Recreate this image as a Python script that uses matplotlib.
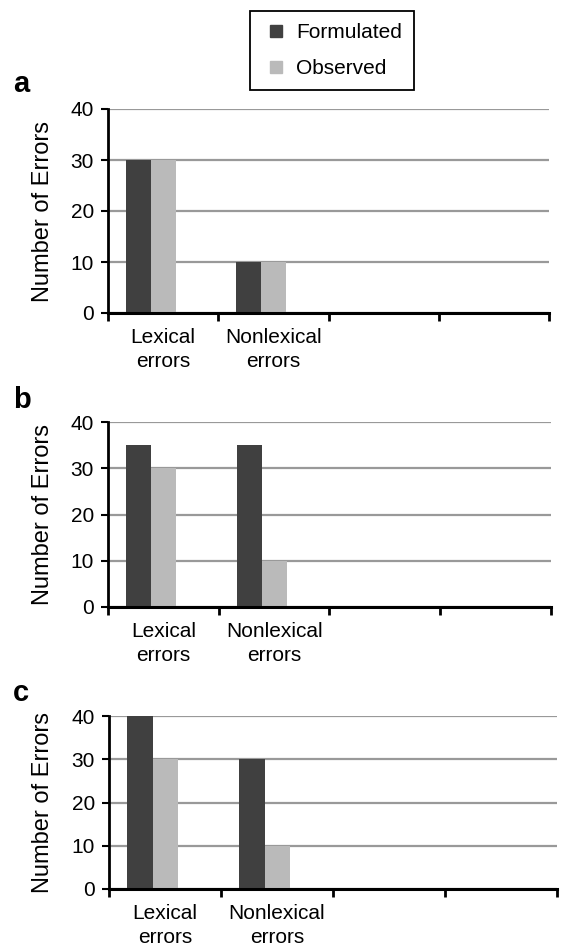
import numpy as np
import matplotlib
matplotlib.use('Agg')
import matplotlib.pyplot as plt
from matplotlib.lines import Line2D

plt.rcParams['font.family'] = ['Liberation Sans', 'DejaVu Sans']

categories = ['Lexical\nerrors', 'Nonlexical\nerrors']
n_slots = 4  # the Excel chart keeps two empty category slots on the right
series_names = ['Formulated', 'Observed']
formulated_a = [30, 10]
observed_a = [30, 10]
formulated_b = [35, 35]
observed_b = [30, 10]
formulated_c = [40, 30]
observed_c = [30, 10]
yticks = [0, 10, 20, 30, 40]
panel_letters = ['a', 'b', 'c']

dark = '#404040'
light = '#bababa'
W, H = 562, 948

fig = plt.figure(figsize=(W / 100, H / 100), dpi=100)

# pixel boxes: left, right, top(40), bottom(0)
boxes = [(108, 549, 109, 313), (108, 551, 422, 607), (109, 557, 716, 889)]
letter_y = [84, 400, 693]
data = [(formulated_a, observed_a), (formulated_b, observed_b), (formulated_c, observed_c)]

bar_w = 0.227
offset = 0.163

for k in range(3):
	l, r, t, b = boxes[k]
	ax = fig.add_axes([l / W, 1 - b / H, (r - l) / W, (b - t) / H])
	form, obs = data[k]
	x = np.arange(len(categories))
	ax.bar(x + offset, form, bar_w, align='edge', color=dark, zorder=3)
	ax.bar(x + offset + bar_w, obs, bar_w, align='edge', color=light, zorder=3)
	ax.set_xlim(0, n_slots)
	ax.set_ylim(0, 40)
	ax.set_yticks(yticks)
	ax.set_xticks(np.arange(n_slots + 1))
	ax.set_xticklabels([])
	ax.set_xticks(x + 0.5, minor=True)
	ax.set_xticklabels(categories, minor=True, fontsize=15, linespacing=1.3)
	ax.tick_params(axis='x', which='major', length=6, width=2, direction='out')
	ax.tick_params(axis='x', which='minor', length=0, pad=11)
	ax.tick_params(axis='y', length=5, width=1.5, pad=5, labelsize=15)
	ax.yaxis.grid(True, color='#999999', linewidth=1.6, zorder=0)
	ax.set_axisbelow(True)
	for s in ['top', 'right']:
		ax.spines[s].set_visible(False)
	ax.spines['left'].set_linewidth(2)
	ax.spines['bottom'].set_linewidth(2.2)
	ax.spines['bottom'].set_zorder(4)
	fig.text(43 / W, 1 - (t + b) / 2 / H, 'Number of Errors', rotation=90,
		ha='center', va='center', fontsize=17)
	fig.text(13 / W, 1 - letter_y[k] / H, panel_letters[k], fontsize=21,
		fontweight='bold', ha='left', va='center')

handles = [Line2D([], [], marker='s', linestyle='none', markersize=8, color=dark),
	Line2D([], [], marker='s', linestyle='none', markersize=8, color=light)]
leg = fig.legend(handles, series_names, loc='upper left', bbox_to_anchor=(250 / W, 1 - 10.7 / H),
	borderaxespad=0, fontsize=15, fancybox=False, framealpha=1, edgecolor='black',
	borderpad=0.6, handlelength=1.3, handletextpad=0.3, labelspacing=0.8)
leg.get_frame().set_linewidth(1.3)

fig.savefig('out.png', dpi=100)
